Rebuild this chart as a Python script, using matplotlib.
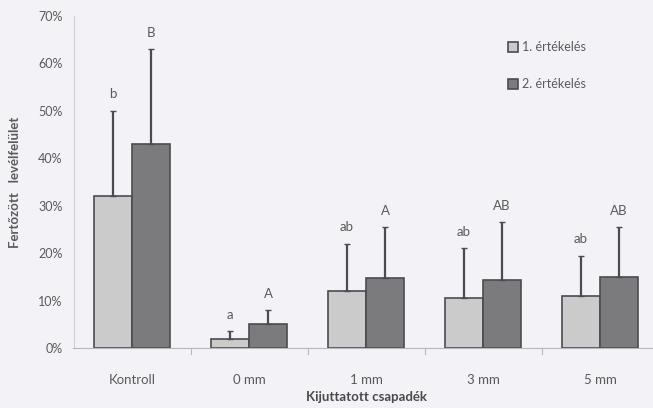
import matplotlib
matplotlib.use("Agg")
import matplotlib.pyplot as plt
import numpy as np

categories = ["Kontroll", "0 mm", "1 mm", "3 mm", "5 mm"]
series_names = ["1. értékelés", "2. értékelés"]
eval1 = [32, 2, 12, 10.5, 11]
eval1_top = [50, 3.5, 22, 21, 19.5]
eval2 = [43, 5, 14.8, 14.3, 15]
eval2_top = [63, 8, 25.5, 26.5, 25.5]
letters1 = ["b", "a", "ab", "ab", "ab"]
letters2 = ["B", "A", "A", "AB", "AB"]
yticks = [0, 10, 20, 30, 40, 50, 60, 70]

plt.rcParams['font.family'] = ['Lato', 'DejaVu Sans']
bg = "#f3f2f7"
text_c = "#5a5a5a"
W, H = 653, 408
fig = plt.figure(figsize=(W/100, H/100), dpi=100, facecolor=bg)
ax = fig.add_axes([73.5/W, 1-348/H, (658.5-73.5)/W, (348-16)/H])
ax.set_facecolor(bg)

x = np.arange(len(categories))
bw = 0.325
c1, c2 = "#cbcbcc", "#7b7a7d"
edge = "#4d4a50"
ax.bar(x - bw/2, eval1, bw, color=c1, edgecolor=edge, linewidth=1.2, label=series_names[0], zorder=2)
ax.bar(x + bw/2, eval2, bw, color=c2, edgecolor=edge, linewidth=1.2, label=series_names[1], zorder=2)
for xs, vals, tops, labs in [(x - bw/2, eval1, eval1_top, letters1), (x + bw/2, eval2, eval2_top, letters2)]:
    err = np.array(tops) - np.array(vals)
    ax.errorbar(xs, vals, yerr=[np.zeros_like(err), err], fmt='none', ecolor="#4d4a50",
                elinewidth=1.6, capsize=2, capthick=1.0, zorder=3)
    for xi, t, l in zip(xs, tops, labs):
        ax.text(xi, t + 2.2, l, ha='center', va='bottom', fontsize=9.5, color=text_c)

ax.set_xlim(-0.5, len(categories) - 0.5)
ax.set_ylim(0, 70)
ax.set_yticks(yticks)
ax.set_yticklabels([f"{v}%" for v in yticks], fontsize=9, color=text_c)
ax.set_xticks(x)
ax.set_xticklabels(categories, fontsize=9.5, color=text_c)
ax.tick_params(axis='x', length=0, pad=19)
ax.tick_params(axis='y', length=0, pad=8)
for s in ["top", "right"]:
    ax.spines[s].set_visible(False)
ax.spines["left"].set_color("#d0d0d4")
ax.spines["bottom"].set_color("#b8b8bc")
for xb in np.arange(0.5, len(categories) - 0.5, 1):
    ax.plot([xb, xb], [0, -1.2], color="#b8b8bc", lw=0.8, clip_on=False)

ax.set_xlabel("Kijuttatott csapadék", fontsize=9.5, fontweight='bold', color="#4a4a4a", labelpad=3)
ax.set_ylabel("Fertőzött   levélfelület", fontsize=9.5, fontweight='bold', color="#5a5a5a", labelpad=12)

leg = ax.legend(loc='upper left', bbox_to_anchor=((497 - 73.5) / 585, (348 - 30) / 332), frameon=False,
                fontsize=9, labelspacing=2.0, handlelength=0.8, handleheight=0.8, handletextpad=0.3,
                labelcolor=text_c)

fig.savefig("out.png", dpi=100, facecolor=bg)
